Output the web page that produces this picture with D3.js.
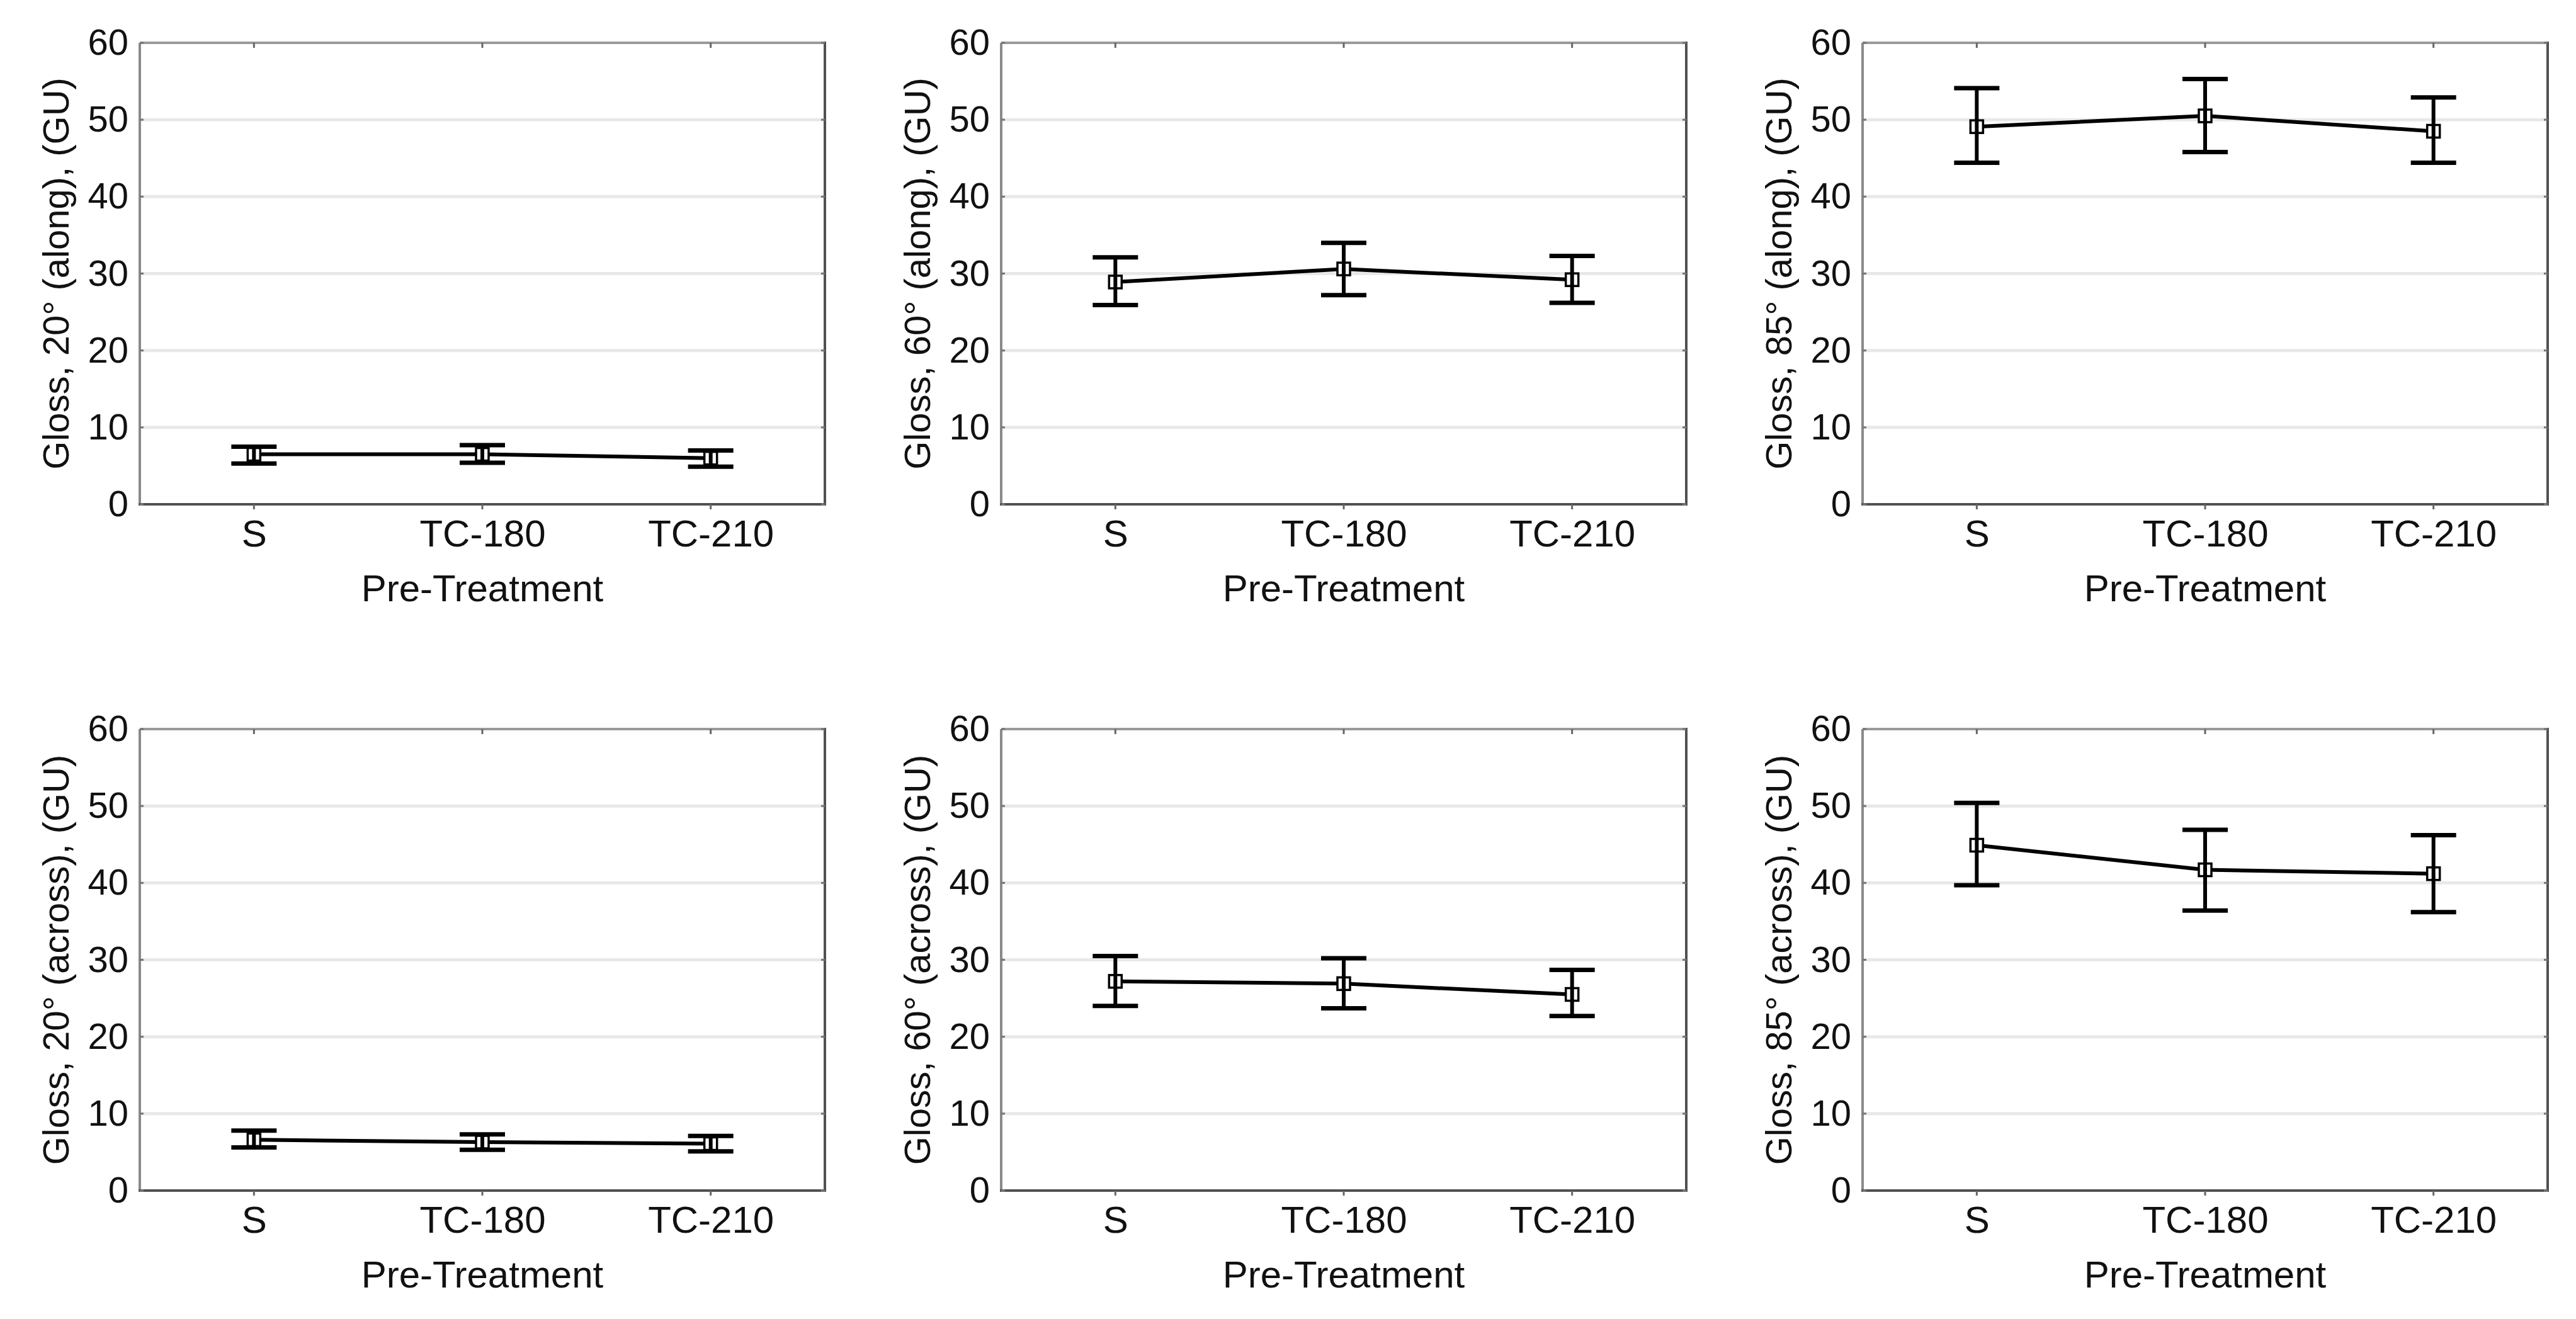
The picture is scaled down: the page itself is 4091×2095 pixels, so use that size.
<!DOCTYPE html>
<html>
<head>
<meta charset="utf-8">
<title>Gloss vs Pre-Treatment</title>
<script src="https://cdn.jsdelivr.net/npm/d3@7"></script>
<style>
  body { margin: 0; background: #fff; }
  text { font-family: "Liberation Sans", Arial, sans-serif; fill: #111; }
</style>
</head>
<body>
<div id="chart"></div>
<script>
// categories and axis ticks
const categories = ["S", "TC-180", "TC-210"];
const yTicks = [0, 10, 20, 30, 40, 50, 60];
const xTitle = "Pre-Treatment";

// panel titles (y axis), row by row
const yTitles = [
  "Gloss, 20° (along), (GU)", "Gloss, 60° (along), (GU)", "Gloss, 85° (along), (GU)",
  "Gloss, 20° (across), (GU)", "Gloss, 60° (across), (GU)", "Gloss, 85° (across), (GU)"
];

// means and error bar ends
const mean20Along = [6.5, 6.5, 6.0];
const low20Along  = [5.3, 5.4, 4.9];
const high20Along = [7.5, 7.7, 7.0];

const mean60Along = [28.9, 30.6, 29.2];
const low60Along  = [25.9, 27.2, 26.2];
const high60Along = [32.1, 34.0, 32.3];

const mean85Along = [49.1, 50.5, 48.5];
const low85Along  = [44.4, 45.8, 44.4];
const high85Along = [54.1, 55.3, 52.9];

const mean20Across = [6.6, 6.3, 6.1];
const low20Across  = [5.6, 5.3, 5.1];
const high20Across = [7.8, 7.3, 7.1];

const mean60Across = [27.2, 26.9, 25.5];
const low60Across  = [24.0, 23.7, 22.7];
const high60Across = [30.5, 30.2, 28.7];

const mean85Across = [44.9, 41.7, 41.2];
const low85Across  = [39.7, 36.4, 36.2];
const high85Across = [50.4, 46.9, 46.2];

const panels = [
  [mean20Along, low20Along, high20Along],
  [mean60Along, low60Along, high60Along],
  [mean85Along, low85Along, high85Along],
  [mean20Across, low20Across, high20Across],
  [mean60Across, low60Across, high60Across],
  [mean85Across, low85Across, high85Across]
];

const W = 4091, H = 2095;
const colLeft = [222, 1590, 2958];
const rowTop = [68, 1158];
const pw = 1088, ph = 733;
const fs = 60;      // x labels, titles
const fsY = 58;     // y tick labels

const svg = d3.select("#chart").append("svg")
  .attr("width", W).attr("height", H);

panels.forEach(function(p, i) {
  const col = i % 3, row = Math.floor(i / 3);
  const g = svg.append("g")
    .attr("transform", "translate(" + colLeft[col] + "," + rowTop[row] + ")");

  const x = d3.scalePoint().domain(categories).range([0, pw]).padding(0.5);
  const y = d3.scaleLinear().domain([0, 60]).range([ph, 0]);

  // grid lines
  g.selectAll(".grid").data(yTicks.filter(function(t) { return t > 0 && t < 60; }))
    .enter().append("line")
    .attr("x1", 0).attr("x2", pw)
    .attr("y1", function(d) { return y(d); }).attr("y2", function(d) { return y(d); })
    .attr("stroke", "#e8e8e8").attr("stroke-width", 5);

  // frame: light top/left, dark right/bottom
  g.append("line").attr("x1", 0).attr("x2", pw).attr("y1", 0).attr("y2", 0)
    .attr("stroke", "#9a9a9a").attr("stroke-width", 4);
  g.append("line").attr("x1", 0).attr("x2", 0).attr("y1", 0).attr("y2", ph)
    .attr("stroke", "#8a8a8a").attr("stroke-width", 4);
  g.append("line").attr("x1", pw).attr("x2", pw).attr("y1", -2).attr("y2", ph)
    .attr("stroke", "#505050").attr("stroke-width", 4);
  g.append("line").attr("x1", -2).attr("x2", pw + 2).attr("y1", ph).attr("y2", ph)
    .attr("stroke", "#505050").attr("stroke-width", 4);

  // small tick marks on the frame
  categories.forEach(function(c) {
    g.append("line").attr("x1", x(c)).attr("x2", x(c)).attr("y1", ph).attr("y2", ph + 8)
      .attr("stroke", "#666").attr("stroke-width", 3);
    g.append("line").attr("x1", x(c)).attr("x2", x(c)).attr("y1", 0).attr("y2", 8)
      .attr("stroke", "#666").attr("stroke-width", 3);
  });
  yTicks.forEach(function(t) {
    g.append("line").attr("x1", 0).attr("x2", 6).attr("y1", y(t)).attr("y2", y(t))
      .attr("stroke", "#777").attr("stroke-width", 3);
    g.append("line").attr("x1", pw - 6).attr("x2", pw).attr("y1", y(t)).attr("y2", y(t))
      .attr("stroke", "#777").attr("stroke-width", 3);
  });

  // axis labels
  const yAxis = d3.axisLeft(y).tickValues(yTicks).tickSize(0).tickPadding(18);
  const ya = g.append("g").call(yAxis);
  ya.select(".domain").remove();
  ya.selectAll("text").attr("font-size", fsY).attr("fill", "#111")
    .attr("font-family", "Liberation Sans, Arial, sans-serif");

  const xAxis = d3.axisBottom(x).tickSize(0).tickPadding(24);
  const xa = g.append("g").attr("transform", "translate(0," + ph + ")").call(xAxis);
  xa.select(".domain").remove();
  xa.selectAll("text").attr("font-size", fs).attr("fill", "#111")
    .attr("font-family", "Liberation Sans, Arial, sans-serif");

  g.append("text")
    .attr("x", pw / 2).attr("y", ph + 154)
    .attr("text-anchor", "middle").attr("font-size", fs)
    .text(xTitle);

  g.append("text")
    .attr("transform", "translate(" + (-133) + "," + (ph / 2) + ") rotate(-90)")
    .attr("text-anchor", "middle").attr("dy", "0.35em").attr("font-size", 58)
    .text(yTitles[i]);

  const pts = categories.map(function(c, k) {
    return { cat: c, m: p[0][k], lo: p[1][k], hi: p[2][k] };
  });

  // mean line
  g.append("path").datum(pts)
    .attr("d", d3.line().x(function(d) { return x(d.cat); }).y(function(d) { return y(d.m); }))
    .attr("fill", "none").attr("stroke", "#000").attr("stroke-width", 6);

  // markers
  g.selectAll(".mk").data(pts).enter().append("rect")
    .attr("x", function(d) { return x(d.cat) - 10; })
    .attr("y", function(d) { return y(d.m) - 10; })
    .attr("width", 20).attr("height", 20)
    .attr("fill", "#fff").attr("stroke", "#000").attr("stroke-width", 3.5);

  // error bars
  const eb = g.selectAll(".eb").data(pts).enter().append("g");
  eb.append("line")
    .attr("x1", function(d) { return x(d.cat); }).attr("x2", function(d) { return x(d.cat); })
    .attr("y1", function(d) { return y(d.lo); }).attr("y2", function(d) { return y(d.hi); })
    .attr("stroke", "#000").attr("stroke-width", 6);
  ["lo", "hi"].forEach(function(k) {
    eb.append("line")
      .attr("x1", function(d) { return x(d.cat) - 36; }).attr("x2", function(d) { return x(d.cat) + 36; })
      .attr("y1", function(d) { return y(d[k]); }).attr("y2", function(d) { return y(d[k]); })
      .attr("stroke", "#000").attr("stroke-width", 7);
  });
});
</script>
</body>
</html>
